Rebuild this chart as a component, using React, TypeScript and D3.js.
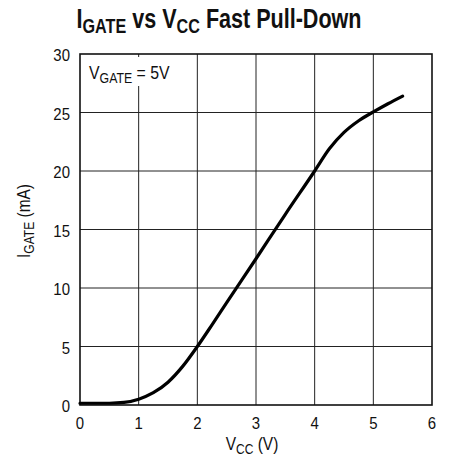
import React, { useEffect, useRef } from 'react';
import * as d3 from 'd3';

// I_GATE vs V_CC, V_GATE = 5V
const vccValues = [0, 0.5, 0.75, 1, 1.25, 1.5, 1.75, 2, 2.25, 2.5, 3, 3.5, 4, 4.25, 4.5, 4.75, 5, 5.25, 5.5];
const igateValues = [0.15, 0.15, 0.22, 0.5, 1.05, 1.95, 3.3, 5, 6.85, 8.75, 12.5, 16.3, 20, 21.9, 23.3, 24.3, 25.05, 25.75, 26.4];
const xTicks = [0, 1, 2, 3, 4, 5, 6];
const yTicks = [0, 5, 10, 15, 20, 25, 30];

const FONT = "'Liberation Sans', Arial, sans-serif";

type Part = { t: string; sub?: boolean };

// narrow-looking text: the installed fonts have no condensed cut, so squeeze horizontally
function addText(parent: any, x: number, y: number, parts: Part[], opts: { size: number; sub: number; shift: number; sx: number; anchor?: string; rotate?: number; weight?: string }) {
  const g = parent.append('g')
    .attr('transform', `translate(${x},${y})${opts.rotate ? ` rotate(${opts.rotate})` : ''} scale(${opts.sx},1)`);
  const t = g.append('text')
    .attr('text-anchor', opts.anchor || 'start')
    .attr('font-family', FONT).attr('font-size', opts.size)
    .attr('font-weight', opts.weight || 'normal').attr('fill', '#111');
  let down = false;
  parts.forEach(p => {
    const s = t.append('tspan').text(p.t);
    if (p.sub && !down) { s.attr('font-size', opts.sub).attr('dy', opts.shift); down = true; }
    else if (p.sub) s.attr('font-size', opts.sub);
    else if (down) { s.attr('dy', -opts.shift); down = false; }
  });
  return g;
}

export default function App() {
  const ref = useRef<SVGSVGElement>(null);

  useEffect(() => {
    const W = 451, H = 466;
    const m = { left: 80, right: 432, top: 54, bottom: 405 };
    const svg = d3.select(ref.current);
    svg.selectAll('*').remove();

    const x = d3.scaleLinear().domain([0, 6]).range([m.left, m.right]);
    const y = d3.scaleLinear().domain([0, 30]).range([m.bottom, m.top]);

    svg.append('rect').attr('width', W).attr('height', H).attr('fill', '#fff');

    // grid
    const grid = svg.append('g').attr('stroke', '#222').attr('stroke-width', 1);
    grid.selectAll('.vx').data(xTicks.slice(1, -1)).join('line')
      .attr('x1', d => x(d)).attr('x2', d => x(d))
      .attr('y1', m.top).attr('y2', m.bottom);
    grid.selectAll('.hy').data(yTicks.slice(1, -1)).join('line')
      .attr('x1', m.left).attr('x2', m.right)
      .attr('y1', d => y(d)).attr('y2', d => y(d));

    // inset label with white background
    svg.append('rect').attr('x', 83).attr('y', 57).attr('width', 92).attr('height', 29).attr('fill', '#fff');
    addText(svg, 89, 79, [{ t: 'V' }, { t: 'GATE', sub: true }, { t: ' = 5V' }],
      { size: 18, sub: 14, shift: 4, sx: 0.88 });

    // frame
    svg.append('rect')
      .attr('x', m.left).attr('y', m.top)
      .attr('width', m.right - m.left).attr('height', m.bottom - m.top)
      .attr('fill', 'none').attr('stroke', '#111').attr('stroke-width', 1.6);

    // curve
    const pts = vccValues.map((v, i) => [v, igateValues[i]] as [number, number]);
    const line = d3.line<[number, number]>()
      .x(d => x(d[0])).y(d => y(d[1]))
      .curve(d3.curveMonotoneX);
    svg.append('path').datum(pts)
      .attr('d', line)
      .attr('fill', 'none').attr('stroke', '#000').attr('stroke-width', 3.2)
      .attr('stroke-linecap', 'round');

    // tick labels
    xTicks.forEach(d => addText(svg, x(d), 429, [{ t: String(d) }],
      { size: 17, sub: 14, shift: 0, sx: 0.88, anchor: 'middle' }));
    yTicks.forEach(d => addText(svg, 70, y(d) + 7, [{ t: String(d) }],
      { size: 17, sub: 14, shift: 0, sx: 0.88, anchor: 'end' }));

    // axis titles
    addText(svg, 252, 450, [{ t: 'V' }, { t: 'CC', sub: true }, { t: ' (V)' }],
      { size: 18, sub: 14, shift: 4, sx: 0.86, anchor: 'middle' });
    addText(svg, 30, 221, [{ t: 'I' }, { t: 'GATE', sub: true }, { t: ' (mA)' }],
      { size: 18, sub: 14, shift: 4, sx: 0.86, anchor: 'middle', rotate: -90 });

    // title
    addText(svg, 219, 28, [{ t: 'I' }, { t: 'GATE', sub: true }, { t: ' vs V' }, { t: 'CC', sub: true }, { t: ' Fast Pull-Down' }],
      { size: 28, sub: 21, shift: 5, sx: 0.77, anchor: 'middle', weight: 'bold' });
  }, []);

  return (
    <svg ref={ref} width={451} height={466}
      style={{ position: 'absolute', left: 0, top: 0, display: 'block' }} />
  );
}
